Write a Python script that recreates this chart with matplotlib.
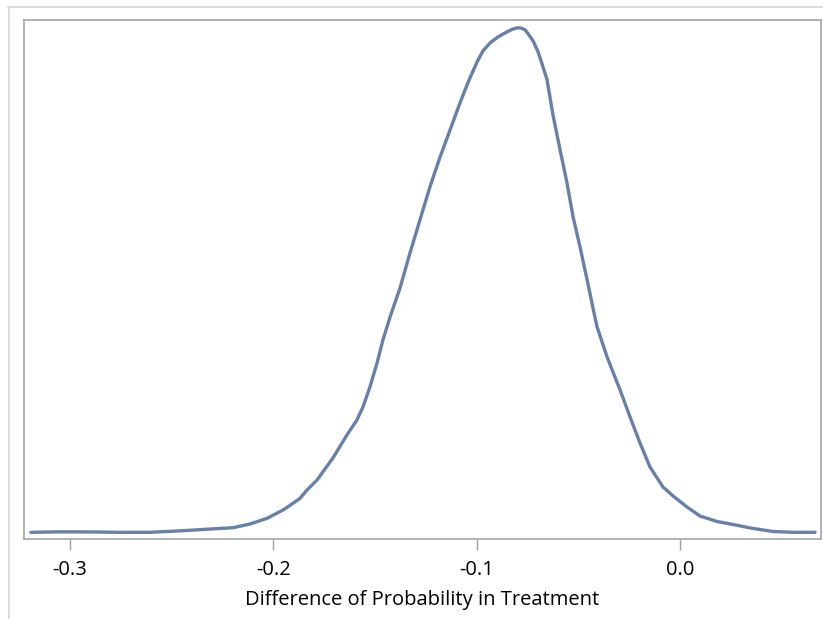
import matplotlib
matplotlib.use("Agg")
from matplotlib import pyplot as plt
from matplotlib.lines import Line2D

# difference of probability (x) and kernel density estimate (y)
diff = [-0.3192, -0.3049, -0.2902, -0.2754, -0.2607, -0.2444, -0.2311, -0.2198,
        -0.2115, -0.2031, -0.1952, -0.1903, -0.1869, -0.1834, -0.1785, -0.1707,
        -0.1638, -0.1589, -0.1559, -0.1525, -0.1490, -0.1461, -0.1426, -0.1377,
        -0.1328, -0.1279, -0.1230, -0.1180, -0.1131, -0.1082, -0.1057, -0.1033,
        -0.0998, -0.0969, -0.0934, -0.0895, -0.0851, -0.0826, -0.0802, -0.0782,
        -0.0762, -0.0743, -0.0723, -0.0698, -0.0674, -0.0654, -0.0625, -0.0590,
        -0.0556, -0.0526, -0.0492, -0.0457, -0.0418, -0.0408, -0.0359, -0.0295,
        -0.0246, -0.0197, -0.0148, -0.0084, -0.0034, 0.0034, 0.0098, 0.0182,
        0.0261, 0.0359, 0.0457, 0.0556, 0.0664]
density = [0.014, 0.024, 0.022, 0.014, 0.014, 0.047, 0.081, 0.108,
           0.183, 0.299, 0.468, 0.605, 0.706, 0.875, 1.079, 1.527,
           1.995, 2.300, 2.565, 2.972, 3.461, 3.929, 4.397, 4.987,
           5.700, 6.371, 7.043, 7.654, 8.203, 8.753, 9.018, 9.262,
           9.588, 9.812, 9.974, 10.097, 10.198, 10.249, 10.280, 10.276,
           10.239, 10.137, 10.015, 9.791, 9.486, 9.221, 8.510, 7.796,
           7.125, 6.432, 5.822, 5.150, 4.377, 4.193, 3.583, 2.911,
           2.361, 1.832, 1.343, 0.936, 0.753, 0.529, 0.346, 0.234,
           0.173, 0.092, 0.031, 0.014, 0.014]

tick_values = [-0.3, -0.2, -0.1, 0.0]
tick_labels = ["-0.3", "-0.2", "-0.1", "0.0"]

plt.rcParams["font.family"] = ["Open Sans", "DejaVu Sans"]

fig = plt.figure(figsize=(8.23, 6.22), dpi=100)
ax = fig.add_axes([24 / 823, 83 / 622, 797 / 823, 519 / 622])

ax.plot(diff, density, color="#6880A8", linewidth=2.4,
        solid_capstyle="round", solid_joinstyle="round")

ax.set_xlim(-0.3226, 0.0693)
ax.set_ylim(-0.122, 10.44)
ax.set_yticks([])
ax.set_xticks(tick_values)
ax.set_xticklabels(tick_labels, fontsize=14.5)
ax.tick_params(axis="x", direction="out", length=8, width=1, color="#A0A0A0", pad=7)

for side in ax.spines.values():
    side.set_color("#A5A5A5")
    side.set_linewidth(1.2)

ax.set_xlabel("Difference of Probability in Treatment", fontsize=14.5, labelpad=7)

# light outer border of the graph area
fig.add_artist(Line2D([8 / 823, 1.0], [1 - 6.5 / 622, 1 - 6.5 / 622], color="#D6D6D6", linewidth=1.2))
fig.add_artist(Line2D([9 / 823, 9 / 823], [1 - 6.5 / 622, 4 / 622], color="#D6D6D6", linewidth=1.2))

fig.savefig("out.png", dpi=100, facecolor="white")
